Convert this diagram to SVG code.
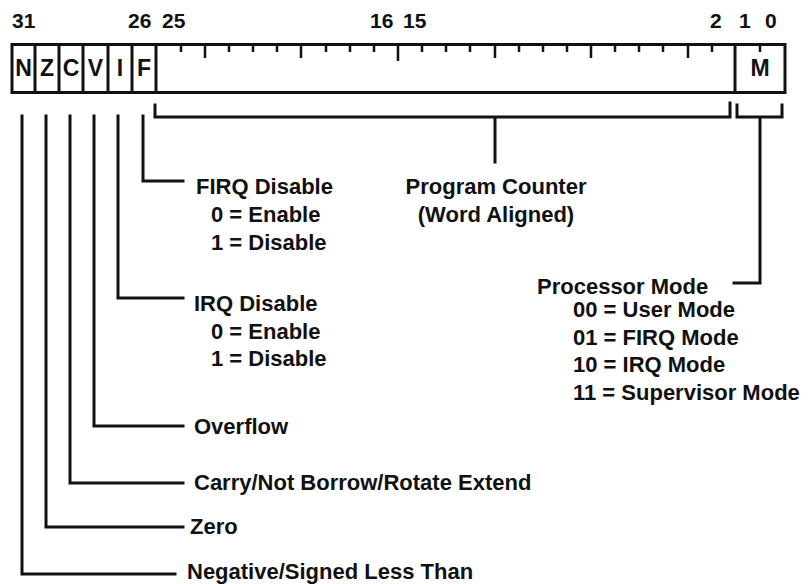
<svg xmlns="http://www.w3.org/2000/svg" width="808" height="584" viewBox="0 0 808 584">
<style>
text{font-family:"Liberation Sans",Arial,Helvetica,sans-serif;font-weight:bold;fill:#111}
.num{font-size:21px}
.cell{font-size:23px;text-anchor:middle}
.lbl{font-size:22px}
.ln{fill:none;stroke:#111;stroke-width:3;stroke-linecap:square;stroke-linejoin:miter}
.tk{stroke:#111;stroke-width:2.5;fill:none}
</style>
<rect width="808" height="584" fill="#fff"/>
<g id="bit-numbers">
<text class="num" x="12" y="28">31</text>
<text class="num"><tspan x="128" y="28">26</tspan><tspan x="162" y="28">25</tspan></text>
<text class="num"><tspan x="370" y="28">16</tspan><tspan x="403" y="28">15</tspan></text>
<text class="num"><tspan x="710" y="28">2</tspan><tspan x="739" y="28">1</tspan><tspan x="765" y="28">0</tspan></text>
</g>
<g id="register">
<rect class="ln" x="12" y="44.5" width="773" height="48"/>
<path class="ln" d="M35 44.5V92.5M59 44.5V92.5M83 44.5V92.5M108 44.5V92.5M132 44.5V92.5M156 44.5V92.5M735 44.5V92.5"/>
<path class="tk" d="M181 45V52M205 45V58M229 45V52M253 45V52M277 45V52M301 45V58M326 45V52M350 45V52M374 45V52M398 45V61M422 45V52M446 45V52M470 45V52M495 45V58M519 45V52M543 45V52M567 45V52M591 45V58M615 45V52M639 45V52M663 45V52M688 45V58M712 45V52M760 45V52"/>
<text class="cell" x="23.5" y="76">N</text>
<text class="cell" x="47" y="76">Z</text>
<text class="cell" x="71" y="76">C</text>
<text class="cell" x="95.5" y="76">V</text>
<text class="cell" x="120" y="76">I</text>
<text class="cell" x="144" y="76">F</text>
<text class="cell" x="760" y="76">M</text>
</g>
<g id="connectors">
<path class="ln" d="M22 116V574H175"/>
<path class="ln" d="M46 116V527H183"/>
<path class="ln" d="M70 116V483H183"/>
<path class="ln" d="M94 116V426H183"/>
<path class="ln" d="M118 116V298H183"/>
<path class="ln" d="M143 116V181H183"/>
<path class="ln" d="M155 105V117H730V103M495 117V162"/>
<path class="ln" d="M737 105V117H782V105M760 117V283H734"/>
</g>
<g id="firq">
<text class="lbl" x="196" y="194">FIRQ Disable</text>
<text class="lbl" x="211" y="222">0 = Enable</text>
<text class="lbl" x="211" y="250">1 = Disable</text>
</g>
<g id="irq">
<text class="lbl" x="194" y="311">IRQ Disable</text>
<text class="lbl" x="211" y="339">0 = Enable</text>
<text class="lbl" x="211" y="366">1 = Disable</text>
</g>
<g id="overflow"><text class="lbl" x="194" y="434">Overflow</text></g>
<g id="carry"><text class="lbl" x="194" y="490">Carry/Not Borrow/Rotate Extend</text></g>
<g id="zero"><text class="lbl" x="190" y="534">Zero</text></g>
<g id="negative"><text class="lbl" x="187" y="579">Negative/Signed Less Than</text></g>
<g id="pc">
<text class="lbl" x="496" y="194" text-anchor="middle">Program Counter</text>
<text class="lbl" x="496" y="222" text-anchor="middle">(Word Aligned)</text>
</g>
<g id="mode">
<text class="lbl" x="537" y="294">Processor Mode</text>
<text class="lbl" x="573" y="317">00 = User Mode</text>
<text class="lbl" x="573" y="345">01 = FIRQ Mode</text>
<text class="lbl" x="573" y="372">10 = IRQ Mode</text>
<text class="lbl" x="573" y="400">11 = Supervisor Mode</text>
</g>
</svg>
